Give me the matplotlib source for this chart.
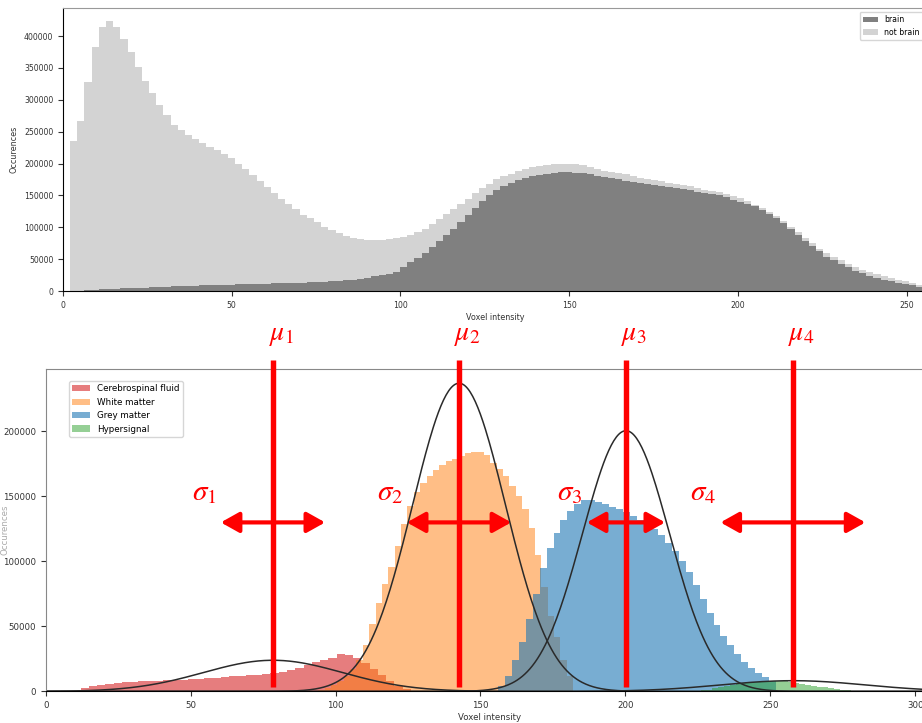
import numpy as np
import matplotlib.pyplot as plt

plt.rcParams['mathtext.fontset'] = 'stix'

# ---- top panel: brain / not brain histogram (counts in thousands, 120 bins over 0-255)
top_edges = np.linspace(0, 255, 121)
total_k = [0, 235, 267, 328, 383, 415, 423, 414, 396, 375,
           352, 330, 310, 292, 276, 261, 252, 245, 238, 232,
           226, 221, 215, 209, 200, 191, 182, 172, 163, 153,
           144, 136, 128, 120, 114, 108, 101, 96, 90.5, 86,
           83, 81, 80, 79.5, 79.5, 81, 83, 85, 88, 92,
           97, 105, 113, 121, 129, 137, 145, 153, 161, 168,
           175, 180, 184, 188, 191, 194, 196, 198, 199, 199.5,
           199.5, 199, 197, 195, 192, 189, 187, 185, 183, 180,
           178, 176, 174, 172, 170, 168, 166, 164, 161, 159,
           157, 155, 152, 149, 146, 141, 135, 130, 124, 118,
           110, 101, 92, 83, 75, 66, 59, 53, 48, 43,
           38, 33, 30, 26, 23, 20, 17, 15, 12, 10]
brain_k = [0, 0, 0, 1.5, 2, 2.5, 3, 3.5, 4, 4.5,
           5, 5.5, 6, 6.5, 7, 7.5, 8, 8, 8.5, 9,
           9, 9.5, 10, 10, 10.5, 10.5, 11, 11, 11.5, 12,
           12, 12.5, 13, 13, 13.5, 14, 14.5, 15, 16, 17,
           18, 19.5, 21, 23, 25, 27, 30, 37, 45, 52,
           60, 69, 78, 88, 98, 109, 120, 131, 141, 150,
           158, 165, 170, 174, 177, 180, 182, 184, 185, 186,
           186, 185.5, 185, 183, 181, 179, 177, 175, 173, 171.5,
           170, 168, 166, 165, 163.5, 162, 160, 158, 156, 154,
           152, 150, 147, 143, 140, 137, 133, 127, 121, 114,
           106, 97, 88, 79, 70, 62, 54, 48, 42, 37,
           32, 28, 24, 21, 18, 15, 13, 11, 9, 7]

# ---- bottom panel: per-class histograms (counts in thousands)
classes = ['Cerebrospinal fluid', 'White matter', 'Grey matter', 'Hypersignal']
class_ranges = [(12, 126), (94, 182), (156, 252), (226, 282)]
csf_k = [3.0, 4.0, 5.0, 5.8, 6.4, 7.0, 7.4, 7.7, 8.0, 8.3,
         8.6, 8.9, 9.2, 9.5, 9.8, 10.2, 10.7, 11.1, 11.6, 12.0,
         12.4, 12.8, 13.4, 14.0, 14.6, 16.2, 18.0, 20.0, 22.5, 24.5,
         25.8, 28.5, 27.8, 26.0, 22.0, 17.0, 12.5, 8.0, 4.5, 2.0]
wm_k = [1.5, 3, 5, 8, 12, 17, 24, 36, 52, 68,
        83, 96, 112, 129, 143, 153, 160, 166, 170, 174,
        177, 179, 181, 183, 184, 184, 181.5, 176, 171, 166,
        158, 150, 140, 126, 105, 80, 58, 42, 24, 12]
gm_k = [4, 12, 24, 38, 56, 75, 95, 110, 122, 132,
        139, 144, 147, 147, 146, 144, 142, 140, 138, 135,
        132, 129, 125, 120, 114, 108, 100, 92, 82, 71,
        60, 51, 43, 36, 29, 23, 18, 14, 11, 8]
hyper_k = [0.8, 1.5, 2.5, 3.5, 4.3, 5.0, 5.6, 6.2, 6.8, 7.2,
           7.5, 7.8, 8.0, 8.0, 7.8, 7.5, 6.8, 6.0, 5.2, 4.5,
           3.8, 3.2, 2.6, 2.0, 1.5, 1.0, 0.6, 0.3]
class_counts = [csf_k, wm_k, gm_k, hyper_k]
class_colors = ['tab:red', 'tab:orange', 'tab:blue', 'tab:green']
class_alpha = [0.6, 0.5, 0.6, 0.5]

# fitted gaussians
mu = [78.4, 142.6, 200.2, 257.8]
sigma = [24, 16, 15, 25]
amp = [24000, 237000, 200500, 8300]
# half-length of the hand drawn sigma arrows
arrow_half = [18, 18, 13.5, 25]

fig = plt.figure(figsize=(9.22, 7.23), dpi=100)

# top panel
ax1 = fig.add_axes([0.0683, 0.5975, 0.9371, 0.3914])
centers = (top_edges[:-1] + top_edges[1:]) / 2
brain = np.array(brain_k) * 1000
not_brain = (np.array(total_k) - np.array(brain_k)) * 1000
ax1.hist([centers, centers], bins=top_edges, weights=[brain, not_brain],
         stacked=True, color=['gray', 'lightgray'], label=['brain', 'not brain'])
ax1.set_xlim(0, 256)
ax1.set_ylim(0, 444000)
ax1.set_xticks(np.arange(0, 251, 50))
ax1.set_yticks(np.arange(0, 400001, 50000))
ax1.set_xlabel('Voxel intensity', fontsize=5.8, color='#333333', labelpad=2)
ax1.set_ylabel('Occurences', fontsize=5.8, color='#333333')
ax1.tick_params(labelsize=5.6, colors='#333333')
ax1.legend(loc='upper right', fontsize=5.6)
ax1.spines['top'].set_color('#999999')

# bottom panel
ax2 = fig.add_axes([0.0496, 0.0436, 0.9635, 0.4461])
for name, rng, counts, col, a in zip(classes, class_ranges, class_counts,
                                     class_colors, class_alpha):
    edges = np.linspace(rng[0], rng[1], len(counts) + 1)
    c = (edges[:-1] + edges[1:]) / 2
    ax2.hist(c, bins=edges, weights=np.array(counts) * 1000,
             color=col, alpha=a, label=name)

xs = np.linspace(0, 306.5, 700)
for m, s, A in zip(mu, sigma, amp):
    ax2.plot(xs, A * np.exp(-(xs - m) ** 2 / (2 * s ** 2)), color='#2a2a2a', lw=1.1)

ax2.set_xlim(0, 306.5)
ax2.set_ylim(0, 248000)
ax2.set_xticks(np.arange(0, 301, 50))
ax2.set_yticks(np.arange(0, 200001, 50000))
ax2.set_xlabel('Voxel intensity', fontsize=6.2, color='#333333', labelpad=2)
ax2.set_ylabel('Occurences', fontsize=6.2, color='#aaaaaa')
ax2.yaxis.set_label_coords(-0.041, 0.5)
ax2.tick_params(labelsize=6.2, colors='#333333')
for sp in ['top', 'left']:
    ax2.spines[sp].set_color('#888888')
ax2.legend(loc='upper left', bbox_to_anchor=(0.026, 0.963), borderaxespad=0,
           fontsize=6.3)

# red annotations: means and standard deviations
for i, (m, h) in enumerate(zip(mu, arrow_half)):
    ax2.plot([m, m], [3700, 255000], color='red', lw=3.9, clip_on=False, zorder=5,
             solid_capstyle='butt')
    ax2.annotate('', xy=(m + h, 130000), xytext=(m - h, 130000),
                 arrowprops=dict(arrowstyle='<|-|>,head_length=0.5,head_width=0.28',
                                 color='red', lw=3, shrinkA=0, shrinkB=0,
                                 mutation_scale=22),
                 annotation_clip=False, zorder=6)
    ax2.annotate(r'$\sigma_%d$' % (i + 1), xy=(m - h, 153000), xytext=(-3, 0),
                 textcoords='offset points', ha='right', va='center',
                 fontsize=21, color='red', annotation_clip=False)
    ax2.annotate(r'$\mu_%d$' % (i + 1), xy=(m, 275000), xytext=(6, 0),
                 textcoords='offset points', ha='center', va='center',
                 fontsize=20, color='red', annotation_clip=False)

fig.savefig('out.png', dpi=100)
